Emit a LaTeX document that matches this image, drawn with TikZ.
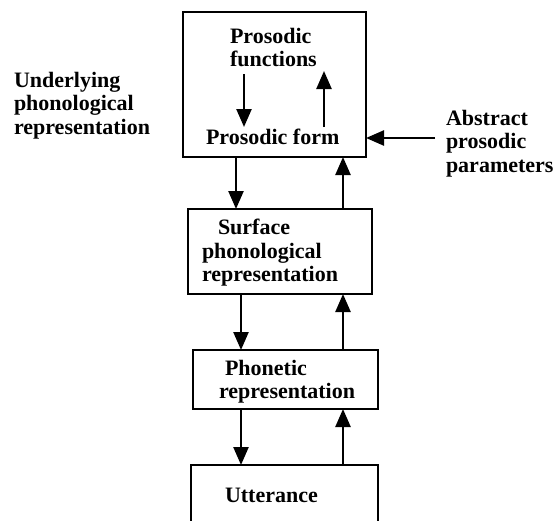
\documentclass[tikz,border=0pt]{standalone}
\usepackage{fontspec}
\setmainfont{Liberation Serif}
\usetikzlibrary{arrows.meta}
\begin{document}
\begin{tikzpicture}[x=1pt,y=-1pt,
  box/.style={draw, line width=2.8pt, inner sep=0pt, outer sep=0pt},
  lbl/.style={anchor=base west, inner sep=0pt, outer sep=0pt, align=left,
    font=\bfseries\fontsize{22}{23.5}\selectfont},
  arr/.style={line width=2.4pt, -{Triangle[length=18pt,width=15pt]}}]
\useasboundingbox (0,0) rectangle (557,520);
\clip (0,0) rectangle (557,520);
% boxes
\node[box, minimum width=183pt, minimum height=145pt] (b1) at (274.5,84.5) {};
\node[box, minimum width=184pt, minimum height=85pt] (b2) at (280,251.5) {};
\node[box, minimum width=185pt, minimum height=59pt] (b3) at (285.5,379.5) {};
\node[box, minimum width=187pt, minimum height=90pt] (b4) at (284.5,510) {};
% texts (base anchor = baseline of the last line)
\node[lbl] (pf) at (230,66.5) {Prosodic\\functions};
\node[lbl] (pform) at (206,144) {Prosodic form};
\node[lbl] (upr) at (14,134) {Underlying\\phonological\\representation};
\node[lbl] (app) at (446,172) {Abstract\\prosodic\\parameters};
\node[lbl] (spr) at (202,281.5) {\hspace*{16pt}Surface\\phonological\\representation};
\node[lbl] (pr) at (219,398.5) {\hspace*{6pt}Phonetic\\representation};
\node[lbl] (utt) at (225,502) {Utterance};
% x positions of the vertical connectors
\coordinate (xd) at (236,0);
\coordinate (xe) at (241,0);
\coordinate (xu) at (343,0);
\coordinate (fa) at (244,74);
\coordinate (fb) at (244,127);
\coordinate (ga) at (324,127);
\coordinate (gb) at (324,71);
\coordinate (ab) at (435,138);
% connectors
\draw[arr] (fa) -- (fb);
\draw[arr] (ga) -- (gb);
\draw[arr] (ab) -- (ab -| b1.east);
\draw[arr] (b1.south -| xd) -- (b2.north -| xd);
\draw[arr] (b2.north -| xu) -- (b1.south -| xu);
\draw[arr] (b2.south -| xe) -- (b3.north -| xe);
\draw[arr] (b3.north -| xu) -- (b2.south -| xu);
\draw[arr] (b3.south -| xe) -- (b4.north -| xe);
\draw[arr] (b4.north -| xu) -- (b3.south -| xu);
\end{tikzpicture}
\end{document}
